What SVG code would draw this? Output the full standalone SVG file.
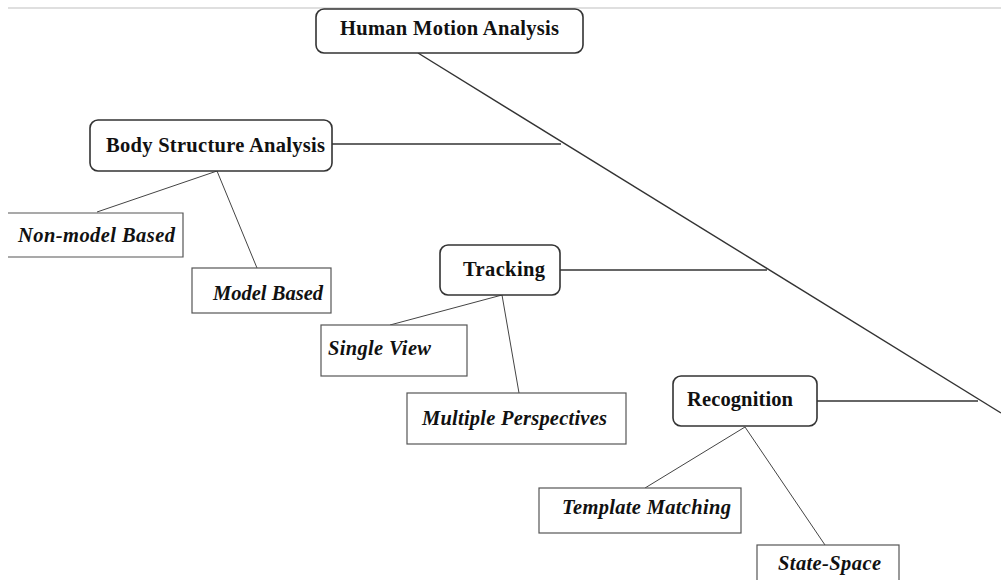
<svg xmlns="http://www.w3.org/2000/svg" width="1001" height="580" viewBox="0 0 1001 580">
<style>
.bg{fill:#fff}
.top{stroke:#d4d4d4;stroke-width:1.5}
.main{fill:#fff;stroke:#333;stroke-width:1.6}
.leaf{fill:#fff;stroke:#555;stroke-width:1.2}
.ln{stroke:#333;stroke-width:1.4;fill:none}
.thin{stroke:#444;stroke-width:1;fill:none}
.t{font-family:"Liberation Serif","Times New Roman",serif;font-weight:bold;font-size:20.5px;fill:#111}
.i{font-style:italic}
</style>
<rect class="bg" x="0" y="0" width="1001" height="580"/>
<line class="top" x1="8" y1="8" x2="1001" y2="8"/>
<g id="connectors">
<line class="ln" x1="418" y1="53" x2="1001" y2="413"/>
<line class="ln" x1="332" y1="144" x2="561" y2="144"/>
<line class="ln" x1="560" y1="270" x2="767" y2="270"/>
<line class="ln" x1="817" y1="401" x2="978" y2="401"/>
<line class="thin" x1="217" y1="171" x2="97" y2="212"/>
<line class="thin" x1="217" y1="171" x2="257" y2="268"/>
<line class="thin" x1="502" y1="295" x2="390" y2="325"/>
<line class="thin" x1="502" y1="295" x2="519" y2="393"/>
<line class="thin" x1="745" y1="427" x2="645" y2="488"/>
<line class="thin" x1="745" y1="427" x2="825" y2="545"/>
</g>
<g id="human-motion-analysis">
<rect class="main" x="316" y="9" width="267" height="44" rx="8"/>
<text class="t" x="449.5" y="35" text-anchor="middle" textLength="219">Human Motion Analysis</text>
</g>
<g id="body-structure-analysis">
<rect class="main" x="90" y="120" width="242" height="51" rx="8"/>
<text class="t" x="215.5" y="152" text-anchor="middle" textLength="219">Body Structure Analysis</text>
</g>
<g id="non-model-based">
<path class="leaf" d="M8,213 H183 V257 H8"/>
<text class="t i" x="18" y="242" textLength="157">Non-model Based</text>
</g>
<g id="model-based">
<rect class="leaf" x="192" y="268" width="139" height="45"/>
<text class="t i" x="213" y="300" textLength="110">Model Based</text>
</g>
<g id="tracking">
<rect class="main" x="440" y="245" width="120" height="50" rx="8"/>
<text class="t" x="463" y="276" textLength="82">Tracking</text>
</g>
<g id="single-view">
<rect class="leaf" x="321" y="325" width="146" height="51"/>
<text class="t i" x="328" y="355" textLength="103">Single View</text>
</g>
<g id="multiple-perspectives">
<rect class="leaf" x="407" y="393" width="219" height="51"/>
<text class="t i" x="422" y="425" textLength="185">Multiple Perspectives</text>
</g>
<g id="recognition">
<rect class="main" x="673" y="376" width="144" height="50" rx="8"/>
<text class="t" x="687" y="406" textLength="106">Recognition</text>
</g>
<g id="template-matching">
<rect class="leaf" x="539" y="488" width="202" height="45"/>
<text class="t i" x="562" y="514" textLength="169">Template Matching</text>
</g>
<g id="state-space">
<rect class="leaf" x="757" y="545" width="142" height="45"/>
<text class="t i" x="778" y="570" textLength="103">State-Space</text>
</g>
</svg>
